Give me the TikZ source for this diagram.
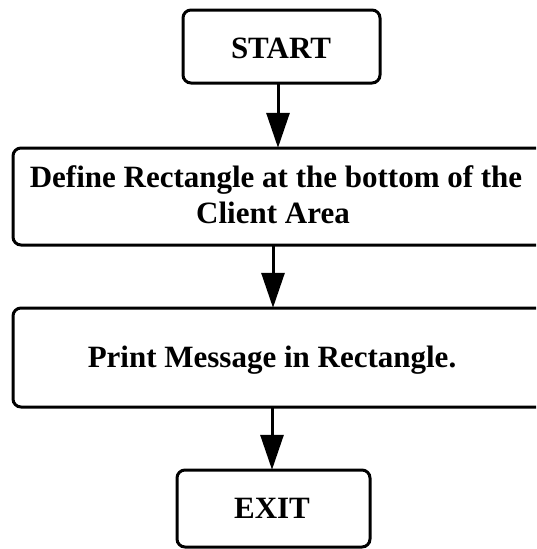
\documentclass[tikz,border=0pt]{standalone}
\usepackage{fontspec}
\setmainfont{Liberation Serif}
\usetikzlibrary{arrows.meta}

\begin{document}
\begin{tikzpicture}[x=1pt,y=-1pt,
  box/.style={draw, line width=3pt, rounded corners=8pt},
  label/.style={anchor=base, inner sep=0pt, font=\bfseries\fontsize{31}{36}\selectfont},
  flow/.style={line width=3pt, -{Triangle[width=23pt,length=35pt]}}]
  \useasboundingbox (0,0) rectangle (536,549);
  \clip (0,0) rectangle (536,549);

  % process boxes (the two wide ones run past the right edge)
  \draw[box] (183,10) rectangle (380,83);
  \draw[box] (13,148) rectangle (552,245);
  \draw[box] (13,308) rectangle (552,407);
  \draw[box] (177,470) rectangle (370,547);
  \node[inner sep=0pt, minimum width=197pt, minimum height=73pt] (start) at (281.5,46.5) {};
  \node[inner sep=0pt, minimum width=539pt, minimum height=97pt] (define) at (282.5,196.5) {};
  \node[inner sep=0pt, minimum width=539pt, minimum height=99pt] (print) at (282.5,357.5) {};
  \node[inner sep=0pt, minimum width=193pt, minimum height=77pt] (exit) at (273.5,508.5) {};

  % box texts
  \node[label] (t1) at (281,58) {START};
  \node[label] (t2) at (276,187) {Define Rectangle at the bottom of the};
  \node[label] (t3) at (273,223) {Client Area};
  \node[label] (t4) at (272,367) {Print Message in Rectangle.};
  \node[label] (t5) at (272,518) {EXIT};

  % connectors
  \coordinate (a1) at (278,0);
  \coordinate (a2) at (273,0);
  \coordinate (a3) at (272,0);
  \draw[flow] (start.south -| a1) -- (define.north -| a1);
  \draw[flow] (define.south -| a2) -- (print.north -| a2);
  \draw[flow] (print.south -| a3) -- (exit.north -| a3);
\end{tikzpicture}
\end{document}
